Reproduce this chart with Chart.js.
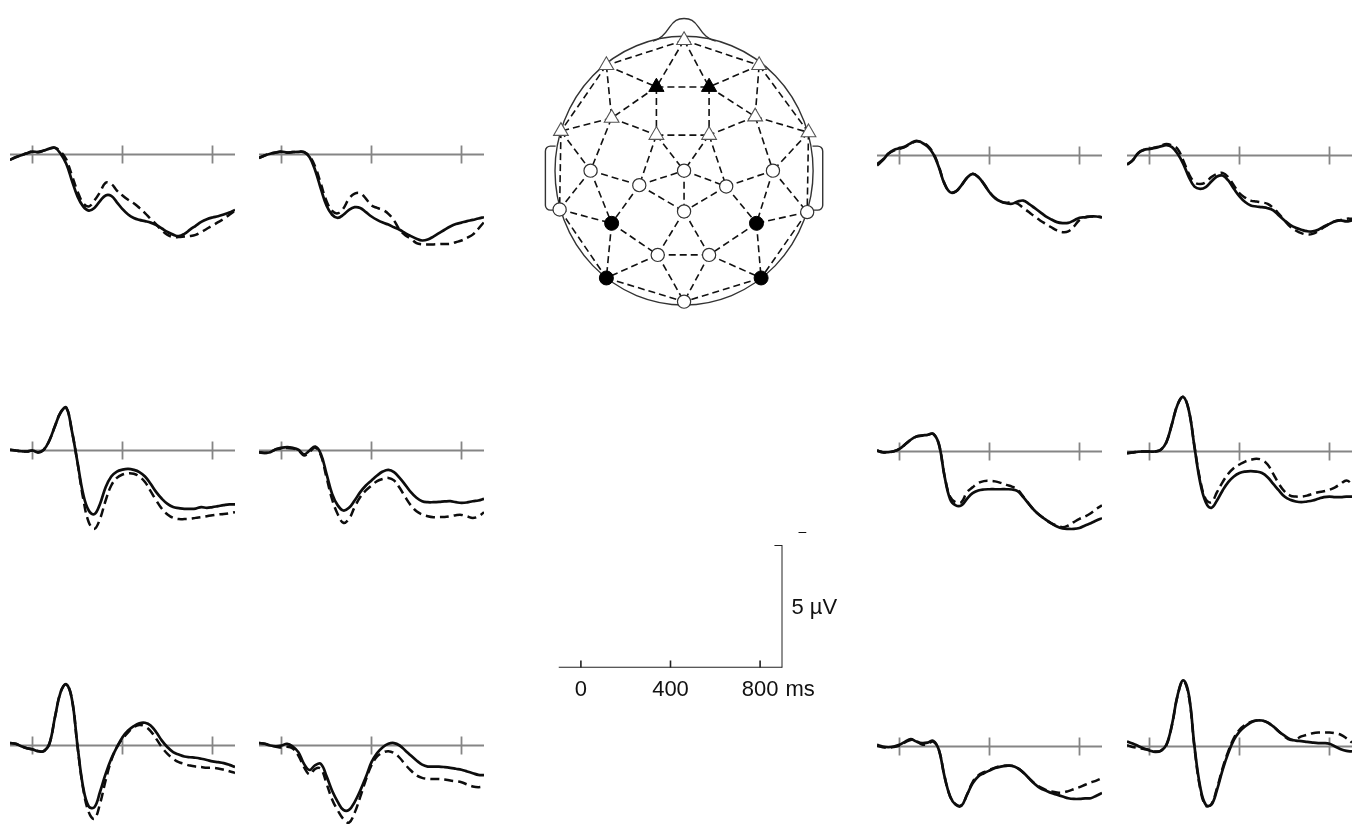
<!DOCTYPE html>
<html>
<head>
<meta charset="utf-8">
<script src="https://cdn.jsdelivr.net/npm/chart.js@4.4.1/dist/chart.umd.min.js"></script>
<style>
  html,body{margin:0;padding:0;background:#fff;}
  body{width:1360px;height:825px;overflow:hidden;position:relative;}
  canvas{position:absolute;}
</style>
</head>
<body>
<script>
// ---------- DATA ----------
// time axis (ms) shared by all ERP panels
const times = [-100,-75,-50,-25,0,25,50,75,100,125,150,175,200,225,250,275,300,325,350,375,400,
               425,450,475,500,525,550,575,600,625,650,675,700,725,750,775,800,825,850,875,900];
const panelTicks = [0, 400, 800];

// amplitudes in µV (negative plotted up)
const A_solid  = [0.22,0.11,0.03,-0.05,-0.12,-0.1,-0.16,-0.24,-0.27,-0.03,0.38,1.06,1.71,2.12,2.29,2.18,1.9,1.67,1.69,1.95,2.23,2.45,2.59,2.67,2.72,2.78,2.88,3.02,3.16,3.27,3.33,3.24,3.07,2.91,2.75,2.64,2.57,2.52,2.45,2.37,2.26];
const A_dashed = [0.22,0.11,0.03,-0.05,-0.12,-0.1,-0.16,-0.24,-0.28,-0.12,0.2,0.85,1.5,1.98,2.12,1.88,1.54,1.15,1.2,1.47,1.67,1.85,1.99,2.18,2.39,2.63,2.85,3.1,3.28,3.37,3.37,3.35,3.33,3.28,3.17,3.03,2.9,2.76,2.63,2.46,2.29];
const B_solid  = [0.14,0.04,-0.03,-0.08,-0.12,-0.08,-0.1,-0.11,-0.1,0.11,0.65,1.4,2.08,2.46,2.59,2.46,2.26,2.15,2.18,2.35,2.53,2.67,2.78,2.86,2.97,3.07,3.21,3.33,3.44,3.51,3.47,3.35,3.21,3.07,2.94,2.84,2.78,2.72,2.67,2.61,2.56];
const B_dashed = [0.14,0.04,-0.03,-0.08,-0.12,-0.08,-0.1,-0.11,-0.1,0.08,0.5,1.2,1.9,2.3,2.4,2.2,1.8,1.6,1.58,1.8,2.08,2.18,2.26,2.42,2.69,3.07,3.3,3.44,3.62,3.67,3.67,3.67,3.66,3.65,3.65,3.58,3.51,3.4,3.27,3.03,2.76];
const C_solid  = [0.41,0.2,-0.07,-0.23,-0.3,-0.37,-0.5,-0.6,-0.52,-0.37,-0.07,0.48,1.16,1.5,1.47,1.22,0.91,0.75,0.88,1.16,1.5,1.74,1.88,1.95,1.97,1.88,1.84,1.97,2.14,2.31,2.48,2.61,2.72,2.76,2.75,2.65,2.54,2.52,2.49,2.49,2.52];
const C_dashed = [0.35,0.17,-0.07,-0.2,-0.27,-0.35,-0.48,-0.58,-0.54,-0.4,-0.1,0.45,1.14,1.5,1.47,1.22,0.91,0.75,0.88,1.16,1.5,1.74,1.88,1.93,1.9,1.97,2.14,2.31,2.49,2.65,2.79,2.93,3.06,3.13,3.1,2.9,2.63,2.52,2.49,2.49,2.52];
const D_solid  = [0.37,0.2,-0.1,-0.23,-0.27,-0.31,-0.37,-0.42,-0.34,-0.07,0.34,0.88,1.27,1.36,1.29,1.06,0.86,0.82,1.02,1.36,1.67,1.9,2.04,2.08,2.11,2.15,2.24,2.45,2.65,2.83,2.95,3.03,3.09,3.1,3.03,2.9,2.79,2.69,2.65,2.69,2.65];
const D_dashed = [0.37,0.2,-0.1,-0.23,-0.27,-0.33,-0.4,-0.47,-0.41,-0.27,0.2,0.75,1.09,1.16,1.09,0.88,0.75,0.71,0.88,1.22,1.54,1.72,1.84,1.88,1.92,1.97,2.14,2.38,2.65,2.9,3.06,3.17,3.22,3.2,3.09,2.93,2.79,2.68,2.63,2.58,2.58];
const E_solid  = [-0.03,0,0.03,0.04,0,0.08,-0.03,-0.41,-1.0,-1.55,-1.75,-0.8,0.48,1.77,2.45,2.6,2.18,1.5,1.06,0.86,0.78,0.75,0.79,0.88,1.06,1.36,1.7,1.97,2.18,2.31,2.35,2.38,2.38,2.37,2.31,2.34,2.31,2.27,2.23,2.2,2.2];
const E_dashed = [-0.03,0,0.03,0.04,0,0.08,-0.03,-0.41,-1.0,-1.55,-1.75,-0.8,0.5,1.95,2.93,3.2,2.79,2.04,1.43,1.12,0.98,0.93,0.95,1.06,1.29,1.66,2.04,2.38,2.61,2.75,2.8,2.8,2.79,2.75,2.72,2.68,2.64,2.61,2.59,2.56,2.52];
const F_solid  = [0.07,0.1,0.07,-0.05,-0.11,-0.14,-0.11,-0.03,0.16,0,-0.16,0.14,0.95,1.77,2.24,2.45,2.34,2.04,1.7,1.43,1.22,1.02,0.86,0.79,0.88,1.12,1.4,1.7,1.93,2.07,2.11,2.11,2.1,2.08,2.07,2.11,2.14,2.12,2.07,2.04,1.97];
const F_dashed = [0.07,0.1,0.07,-0.05,-0.08,-0.1,-0.08,0.0,0.2,0.05,-0.12,0.2,1.1,2.0,2.6,2.95,2.79,2.31,1.9,1.63,1.43,1.25,1.16,1.12,1.22,1.52,1.9,2.24,2.48,2.61,2.68,2.72,2.72,2.71,2.68,2.64,2.63,2.69,2.75,2.69,2.52];
const G_solid  = [-0.04,0.03,0.03,-0.01,-0.11,-0.29,-0.48,-0.61,-0.65,-0.68,-0.72,-0.3,1.0,1.95,2.2,2.2,1.93,1.7,1.59,1.55,1.54,1.54,1.54,1.54,1.55,1.62,1.86,2.14,2.41,2.61,2.78,2.93,3.06,3.14,3.16,3.16,3.12,3.02,2.93,2.82,2.72];
const G_dashed = [-0.04,0.03,0.03,-0.01,-0.11,-0.29,-0.48,-0.61,-0.65,-0.68,-0.72,-0.3,0.98,1.85,2.07,2.07,1.66,1.46,1.29,1.21,1.2,1.22,1.28,1.36,1.43,1.56,1.84,2.14,2.41,2.61,2.78,2.93,3.02,3.09,3.02,2.88,2.75,2.65,2.52,2.34,2.2];
const H_solid  = [0.07,0.04,0.01,0,0,0,-0.07,-0.38,-1.13,-1.92,-2.23,-1.67,-0.18,1.25,2.07,2.3,2.0,1.59,1.25,1.02,0.88,0.82,0.8,0.82,0.88,1.05,1.32,1.59,1.84,1.97,2.04,2.07,2.04,2.0,1.93,1.86,1.84,1.86,1.86,1.84,1.84];
const H_dashed = [0.07,0.04,0.01,0,0,0,-0.07,-0.38,-1.13,-1.92,-2.23,-1.67,-0.2,1.15,1.95,2.07,1.66,1.25,0.91,0.67,0.53,0.41,0.34,0.3,0.34,0.53,0.91,1.32,1.63,1.8,1.84,1.84,1.8,1.73,1.66,1.62,1.56,1.46,1.32,1.18,1.32];
const I_solid  = [-0.1,-0.07,0.03,0.11,0.16,0.23,0.23,-0.07,-1.16,-2.18,-2.5,-1.9,0,1.7,2.49,2.52,1.9,1.16,0.54,0.07,-0.34,-0.61,-0.79,-0.91,-0.93,-0.82,-0.54,-0.2,0.07,0.27,0.37,0.45,0.48,0.5,0.54,0.59,0.65,0.68,0.72,0.79,0.88];
const I_dashed = [-0.1,-0.07,0.03,0.11,0.16,0.23,0.23,-0.07,-1.16,-2.18,-2.5,-1.9,0.05,1.75,2.72,2.99,2.38,1.43,0.61,0.07,-0.27,-0.54,-0.75,-0.84,-0.78,-0.59,-0.27,0.07,0.34,0.54,0.68,0.75,0.82,0.86,0.88,0.91,0.91,0.94,0.99,1.05,1.12];
const J_solid  = [-0.1,-0.07,0,0.03,0,-0.07,0.04,0.27,0.75,1.0,0.8,0.75,1.25,1.85,2.3,2.63,2.63,2.31,1.84,1.29,0.68,0.31,0.07,-0.07,-0.1,0,0.2,0.41,0.61,0.78,0.86,0.86,0.86,0.88,0.91,0.95,0.99,1.06,1.13,1.2,1.21];
const J_dashed = [-0.1,-0.07,0,0.05,0.08,0.05,0.12,0.41,0.88,1.18,0.95,0.95,1.55,2.2,2.65,3.0,3.15,2.75,2.1,1.4,0.8,0.45,0.29,0.23,0.31,0.5,0.78,1.02,1.22,1.32,1.36,1.37,1.37,1.39,1.43,1.46,1.5,1.59,1.67,1.7,1.67];
const K_solid  = [-0.07,0,0.03,0,-0.07,-0.2,-0.3,-0.2,-0.14,-0.16,-0.23,0.14,1.22,2.04,2.38,2.42,1.97,1.5,1.22,1.09,0.98,0.88,0.82,0.79,0.79,0.88,1.06,1.29,1.52,1.7,1.8,1.9,1.97,2.04,2.11,2.14,2.14,2.12,2.11,2.01,1.9];
const K_dashed = [-0.03,0.03,0.05,0.02,-0.04,-0.17,-0.27,-0.22,-0.08,-0.1,-0.2,0.14,1.22,2.04,2.36,2.4,1.97,1.45,1.18,1.05,0.95,0.86,0.8,0.78,0.79,0.88,1.06,1.29,1.5,1.66,1.77,1.84,1.88,1.88,1.82,1.74,1.66,1.56,1.47,1.39,1.29];
const L_solid  = [-0.2,-0.12,-0.02,0.08,0.16,0.22,0.18,-0.07,-0.9,-2.1,-2.7,-2.1,0.0,1.63,2.38,2.38,1.77,0.95,0.27,-0.27,-0.61,-0.82,-0.98,-1.06,-1.06,-0.98,-0.82,-0.61,-0.44,-0.3,-0.24,-0.22,-0.19,-0.16,-0.14,-0.14,-0.11,0,0.11,0.18,0.2];
const L_dashed = [-0.05,0.02,0.06,0.1,0.14,0.2,0.18,-0.05,-0.88,-2.08,-2.68,-2.05,0.05,1.7,2.42,2.35,1.7,0.88,0.2,-0.34,-0.68,-0.88,-1.0,-1.06,-1.06,-0.98,-0.82,-0.61,-0.41,-0.27,-0.3,-0.41,-0.48,-0.54,-0.57,-0.57,-0.57,-0.54,-0.48,-0.34,-0.16];

// electrode montage (head units: radius ~1, x right, y toward nose)
const electrodeX    = [0,-0.59,0.57,-0.21,0.19,-0.55,0.54,-0.935,0.945,-0.21,0.19,-0.71,-0.34,0,0.32,0.675,-0.945,0.935,-0.55,0,0.55,-0.2,0.19,-0.59,0.585,0];
const electrodeY    = [0.99,0.80,0.80,0.635,0.635,0.40,0.41,0.30,0.29,0.27,0.27,0.0,-0.11,0.0,-0.12,0.0,-0.295,-0.315,-0.40,-0.31,-0.40,-0.64,-0.64,-0.815,-0.815,-0.995];
const electrodeKind = ['tri','tri','tri','triFilled','triFilled','tri','tri','tri','tri','tri','tri',
                       'circ','circ','circ','circ','circ','circ','circ','circFilled','circ','circFilled',
                       'circ','circ','circFilled','circFilled','circ'];
const electrodeLinks = [[1,2],[1,3],[1,4],[1,5],[2,4],[3,5],[4,5],[2,6],[3,7],[2,8],[3,9],[4,6],[5,7],[4,10],[5,11],
  [6,8],[7,9],[6,10],[7,11],[10,11],[8,12],[6,12],[7,16],[9,16],[8,17],[9,18],[10,13],[11,15],[10,14],[11,14],
  [12,13],[13,14],[14,15],[15,16],[12,17],[12,19],[13,19],[13,20],[14,20],[15,20],[15,21],[16,21],[16,18],
  [17,19],[18,21],[17,24],[18,25],[19,24],[21,25],[19,22],[21,23],[20,22],[20,23],[22,23],[22,24],[23,25],
  [22,26],[23,26],[24,26],[25,26]];

// scale bar
const scaleTicks = [0, 400, 800];
const scaleTickLabels = ['0', '400', '800'];
const scaleUnitX = 'ms';
const scaleBarValue = 5;
const scaleUnitY = 'µV';

// ---------- LAYOUT ----------
const panelLayout = [
  {s:A_solid,d:A_dashed,left:10,  base:154.5},{s:B_solid,d:B_dashed,left:259, base:154.5},
  {s:C_solid,d:C_dashed,left:877, base:155},  {s:D_solid,d:D_dashed,left:1127,base:155},
  {s:E_solid,d:E_dashed,left:10,  base:450},  {s:F_solid,d:F_dashed,left:259, base:450},
  {s:G_solid,d:G_dashed,left:877, base:451},  {s:H_solid,d:H_dashed,left:1127,base:451},
  {s:I_solid,d:I_dashed,left:10,  base:745},  {s:J_solid,d:J_dashed,left:259, base:745},
  {s:K_solid,d:K_dashed,left:877, base:746.5},{s:L_solid,d:L_dashed,left:1127,base:746.5}
];
const FONT = '"Liberation Sans", Arial, Helvetica, sans-serif';

function makeCanvas(left, top, w, h){
  const c = document.createElement('canvas');
  c.width = w; c.height = h;
  c.style.left = left + 'px'; c.style.top = top + 'px';
  c.style.width = w + 'px'; c.style.height = h + 'px';
  document.body.appendChild(c);
  return c;
}
const baseOpts = {
  responsive:false, animation:false, events:[], devicePixelRatio:1,
  plugins:{legend:{display:false}, tooltip:{enabled:false}, title:{display:false}}
};

// ---------- ERP PANELS ----------
const panelAxis = {
  id:'panelAxis',
  beforeDatasetsDraw(chart){
    const {ctx, scales:{x, y}} = chart;
    ctx.save();
    ctx.strokeStyle = '#858585'; ctx.lineWidth = 1.8;
    const y0 = y.getPixelForValue(0);
    ctx.beginPath();
    ctx.moveTo(x.getPixelForValue(times[0]), y0);
    ctx.lineTo(x.getPixelForValue(times[times.length-1]), y0);
    panelTicks.forEach(t => {
      const px = x.getPixelForValue(t);
      ctx.moveTo(px, y.getPixelForValue(-0.37));
      ctx.lineTo(px, y.getPixelForValue(0.37));
    });
    ctx.stroke();
    ctx.restore();
  }
};
panelLayout.forEach(p => {
  const cv = makeCanvas(p.left, p.base - 122.5, 225, 245);
  new Chart(cv, {
    type:'line',
    data:{datasets:[
      {data: times.map((t,i)=>({x:t, y:p.s[i]})), borderColor:'#0d0d0d', borderWidth:2.7,
       pointRadius:0, tension:0.4, fill:false, order:1},
      {data: times.map((t,i)=>({x:t, y:p.d[i]})), borderColor:'#0d0d0d', borderWidth:2.5, borderDash:[9,5],
       pointRadius:0, tension:0.4, fill:false, order:2}
    ]},
    options: Object.assign({}, baseOpts, {
      layout:{padding:0},
      scales:{
        x:{type:'linear', min:-100, max:900, display:false},
        y:{type:'linear', min:-5, max:5, reverse:true, display:false}
      }
    }),
    plugins:[panelAxis]
  });
});

// ---------- HEAD MAP ----------
const headOutline = {
  id:'headOutline',
  beforeDatasetsDraw(chart){
    const {ctx, scales:{x, y}} = chart;
    const X = v => x.getPixelForValue(v), Y = v => y.getPixelForValue(v);
    ctx.save();
    ctx.strokeStyle = '#333'; ctx.lineWidth = 1.4;
    // head
    ctx.beginPath();
    ctx.ellipse(X(0), Y(0), X(0.98)-X(0), Y(0)-Y(1.02), 0, 0, Math.PI*2);
    ctx.stroke();
    // nose
    ctx.beginPath();
    ctx.moveTo(X(-0.236), Y(0.983));
    ctx.bezierCurveTo(X(-0.18), Y(1.0), X(-0.15), Y(1.03), X(-0.11), Y(1.09));
    ctx.bezierCurveTo(X(-0.075), Y(1.14), X(-0.05), Y(1.155), X(0), Y(1.155));
    ctx.bezierCurveTo(X(0.05), Y(1.155), X(0.075), Y(1.14), X(0.11), Y(1.09));
    ctx.bezierCurveTo(X(0.15), Y(1.03), X(0.18), Y(1.0), X(0.24), Y(0.983));
    ctx.stroke();
    // ears
    [-1, 1].forEach(side => {
      const inner = X(side*0.975), outer = X(side*1.053), top = Y(0.186), bot = Y(-0.3);
      ctx.beginPath();
      ctx.moveTo(inner, top);
      ctx.arcTo(outer, top, outer, bot, 5);
      ctx.arcTo(outer, bot, inner, bot, 5);
      ctx.lineTo(inner, bot);
      ctx.stroke();
    });
    ctx.restore();
  }
};
const linkPoints = [];
electrodeLinks.forEach(([a,b]) => {
  linkPoints.push({x:electrodeX[a-1], y:electrodeY[a-1]});
  linkPoints.push({x:electrodeX[b-1], y:electrodeY[b-1]});
  linkPoints.push({x:electrodeX[b-1], y:null});
});
const kindPts = k => electrodeX.map((v,i)=>({x:v, y:electrodeY[i], k:electrodeKind[i]})).filter(o=>o.k===k).map(o=>({x:o.x,y:o.y}));
const headCanvas = makeCanvas(520, 0, 330, 330);
new Chart(headCanvas, {
  type:'scatter',
  data:{datasets:[
    {data:linkPoints, showLine:true, spanGaps:false, borderColor:'#111', borderWidth:1.6, borderDash:[7,4],
     pointRadius:0, tension:0, order:3},
    {data:kindPts('tri'), pointStyle:'triangle', pointRadius:8.5, backgroundColor:'#fff', borderColor:'#555', borderWidth:1.1, order:1},
    {data:kindPts('triFilled'), pointStyle:'triangle', pointRadius:8.8, backgroundColor:'#000', borderColor:'#000', borderWidth:1, order:1},
    {data:kindPts('circ'), pointStyle:'circle', pointRadius:6.6, backgroundColor:'#fff', borderColor:'#333', borderWidth:1.2, order:1},
    {data:kindPts('circFilled'), pointStyle:'circle', pointRadius:7, backgroundColor:'#000', borderColor:'#000', borderWidth:1, order:1}
  ]},
  options: Object.assign({}, baseOpts, {
    layout:{padding:0},
    scales:{
      x:{type:'linear', min:-1.1714, max:1.1857, display:false},
      y:{type:'linear', min:-1.1357, max:1.2214, display:false}
    }
  }),
  plugins:[headOutline]
});

// ---------- SCALE BAR ----------
const scaleText = {
  id:'scaleText',
  afterDatasetsDraw(chart){
    const {ctx, scales:{x, y}} = chart;
    ctx.save();
    ctx.fillStyle = '#111';
    ctx.font = '22px ' + FONT;
    ctx.textAlign = 'center'; ctx.textBaseline = 'alphabetic';
    const base = y.getPixelForValue(0);
    scaleTicks.forEach((t,i) => ctx.fillText(scaleTickLabels[i], x.getPixelForValue(t), base + 28));
    ctx.textAlign = 'left';
    const last = scaleTicks[scaleTicks.length-1];
    const w = ctx.measureText(scaleTickLabels[scaleTickLabels.length-1]).width;
    ctx.fillText(scaleUnitX, x.getPixelForValue(last) + w/2 + 7, base + 28);
    ctx.fillText(scaleBarValue + ' ' + scaleUnitY, x.getPixelForValue(900) + 9, y.getPixelForValue(-scaleBarValue/2) + 8);
    ctx.font = '14px ' + FONT;
    ctx.textAlign = 'center'; ctx.textBaseline = 'middle';
    ctx.fillText('–', x.getPixelForValue(900) + 20, y.getPixelForValue(-scaleBarValue) - 13);
    ctx.restore();
  }
};
const tickPts = [];
scaleTicks.forEach(t => { tickPts.push({x:t,y:0},{x:t,y:-0.29},{x:t,y:null}); });
const scaleCanvas = makeCanvas(540, 500, 330, 220);
new Chart(scaleCanvas, {
  type:'scatter',
  data:{datasets:[
    {data:[{x:-100,y:0},{x:900,y:0}], showLine:true, borderColor:'#222', borderWidth:2, pointRadius:0},
    {data:[{x:864,y:-scaleBarValue},{x:900,y:-scaleBarValue},{x:900,y:0}], showLine:true, borderColor:'#222', borderWidth:2, pointRadius:0},
    {data:tickPts, showLine:true, spanGaps:false, borderColor:'#222', borderWidth:1.6, pointRadius:0}
  ]},
  options: Object.assign({}, baseOpts, {
    layout:{padding:{left:18.5, right:87.5, top:45, bottom:52.3}},
    scales:{
      x:{type:'linear', min:-100, max:900, display:false},
      y:{type:'linear', min:-scaleBarValue, max:0, reverse:true, display:false}
    }
  }),
  plugins:[scaleText]
});
</script>
</body>
</html>
